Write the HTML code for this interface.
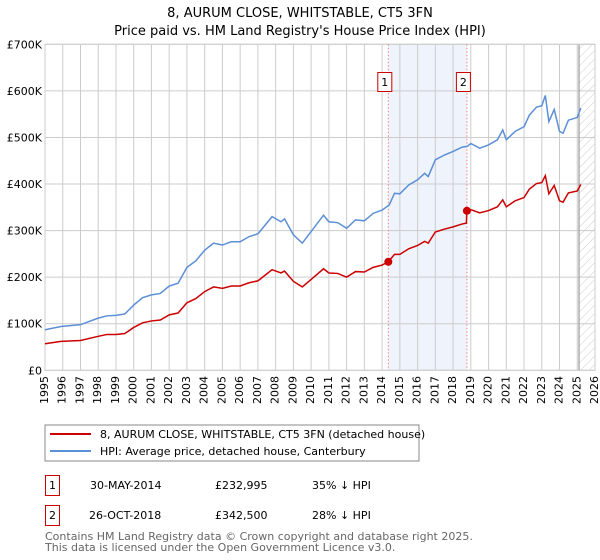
<!DOCTYPE html>
<html><head><meta charset="utf-8"><style>
body{margin:0;background:#fff;font-family:"Liberation Sans","DejaVu Sans",sans-serif;}
svg text{font-family:"DejaVu Sans","Liberation Sans",sans-serif;}
#wrap{position:relative;width:600px;height:560px;}
.xl{position:absolute;font-family:"DejaVu Sans","Liberation Sans",sans-serif;font-size:11px;line-height:12px;width:12px;height:34px;writing-mode:vertical-rl;text-orientation:sideways;white-space:nowrap;}
@supports (writing-mode: sideways-lr){.xl{writing-mode:sideways-lr;text-align:right;}}
</style></head><body>
<div id="wrap">
<svg id="c" width="600" height="560" xmlns="http://www.w3.org/2000/svg" style="position:absolute;left:0;top:0">
<defs><pattern id="h" width="6" height="6" patternUnits="userSpaceOnUse" patternTransform="rotate(45)"><line x1="0" y1="0" x2="0" y2="6" stroke="#ccc" stroke-width="1"/></pattern></defs>
<text x="300" y="17" text-anchor="middle" font-size="13">8, AURUM CLOSE, WHITSTABLE, CT5 3FN</text>
<text x="300" y="35" text-anchor="middle" font-size="13">Price paid vs. HM Land Registry's House Price Index (HPI)</text>
<g id="plot"></g>
<rect x="45" y="425" width="374" height="36" fill="#fff" stroke="#888"/>
<line x1="50" y1="434" x2="91" y2="434" stroke="#cc0000" stroke-width="2"/>
<text x="100" y="438" font-size="11">8, AURUM CLOSE, WHITSTABLE, CT5 3FN (detached house)</text>
<line x1="50" y1="451" x2="91" y2="451" stroke="#5b8fd6" stroke-width="2"/>
<text x="100" y="455" font-size="11">HPI: Average price, detached house, Canterbury</text>
<g font-size="11">
<rect x="45.5" y="475.5" width="14" height="20" fill="none" stroke="#cc0000"/>
<text x="52.5" y="489" text-anchor="middle">1</text>
<text x="90" y="489">30-MAY-2014</text>
<text x="215" y="489">£232,995</text>
<text x="312" y="489">35% ↓ HPI</text>
<rect x="45.5" y="505.5" width="14" height="20" fill="none" stroke="#cc0000"/>
<text x="52.5" y="519" text-anchor="middle">2</text>
<text x="89" y="519">26-OCT-2018</text>
<text x="215" y="519">£342,500</text>
<text x="312" y="519">28% ↓ HPI</text>
</g>
<text x="45" y="540" font-size="11" fill="#666">Contains HM Land Registry data © Crown copyright and database right 2025.</text>
<text x="45" y="551" font-size="11" fill="#666">This data is licensed under the Open Government Licence v3.0.</text>
</svg>
</div>
<script>
const years=[1995,1995.9,1997,1998,1998.5,1999,1999.5,2000,2000.5,2001,2001.5,2002,2002.5,2003,2003.5,2004,2004.5,2005,2005.5,2006,2006.5,2007,2007.5,2007.8,2008.3,2008.5,2009,2009.5,2010,2010.7,2011,2011.5,2012,2012.5,2013,2013.5,2014,2014.4,2014.7,2015,2015.5,2016,2016.4,2016.6,2017,2017.5,2018,2018.5,2018.8,2019,2019.5,2020,2020.5,2020.8,2021,2021.5,2022,2022.3,2022.7,2023,2023.2,2023.4,2023.7,2024,2024.2,2024.5,2025,2025.2];
const hpi=[87,94,98,112,117,118,121,140,156,162,165,181,187,221,235,258,273,269,276,276,287,293,316,330,319,325,291,273,298,333,319,317,305,323,321,337,344,355,380,379,398,409,423,416,452,462,470,479,481,487,477,484,495,516,495,513,523,548,565,568,590,534,560,513,509,537,543,563];
const redYears=[1995,1995.9,1997,1998,1998.5,1999,1999.5,2000,2000.5,2001,2001.5,2002,2002.5,2003,2003.5,2004,2004.5,2005,2005.5,2006,2006.5,2007,2007.5,2007.8,2008.3,2008.5,2009,2009.5,2010,2010.7,2011,2011.5,2012,2012.5,2013,2013.5,2014,2014.35,2014.7,2015,2015.5,2016,2016.4,2016.6,2017,2017.5,2018,2018.5,2018.75,2018.78,2019,2019.5,2020,2020.5,2020.8,2021,2021.5,2022,2022.3,2022.7,2023,2023.2,2023.4,2023.7,2024,2024.2,2024.5,2025,2025.2];
const red=[57,62,64,73,77,77,79,92,102,106,108,119,123,145,154,169,179,176,181,181,188,192,207,216,209,213,191,179,195,218,209,208,200,212,211,221,226,233,249,249,261,268,277,273,297,303,308,314,316,342.5,345,338,343,351,366,351,364,371,389,401,403,418,379,397,364,361,381,385,399];
const saleYears=[2014.35,2018.78];
const salePrices=[232.995,342.5];
const yTicks=[0,100,200,300,400,500,600,700];
const yTickLabels=["£0","£100K","£200K","£300K","£400K","£500K","£600K","£700K"];
const xTicks=[1995,1996,1997,1998,1999,2000,2001,2002,2003,2004,2005,2006,2007,2008,2009,2010,2011,2012,2013,2014,2015,2016,2017,2018,2019,2020,2021,2022,2023,2024,2025,2026];
const L=45,R=595,T=44.3,B=370.3,X0=1995,X1=2026,YMAX=700,DATA_END=2025.1;
const X=v=>L+(v-X0)/(X1-X0)*(R-L);
const Y=v=>B-v/YMAX*(B-T);
const NS="http://www.w3.org/2000/svg";
const g=document.getElementById('plot');
const wrap=document.getElementById('wrap');
function mk(t,a,p){const e=document.createElementNS(NS,t);for(const k in a)e.setAttribute(k,a[k]);(p||g).appendChild(e);return e;}
const sh=mk('rect',{x:X(saleYears[0]),y:T,width:X(saleYears[1])-X(saleYears[0]),height:B-T,fill:'#eef3fc'});


xTicks.forEach(v=>{const l=mk('line',{x1:X(v),x2:X(v),y1:T,y2:B,stroke:'#ccc'});


const d=document.createElement('div');
d.className='xl';
d.textContent=v;
d.style.left=(X(v)-6)+'px';
d.style.top=(B+6)+'px';


wrap.appendChild(d);});
yTicks.forEach((v,i)=>{const l=mk('line',{x1:L,x2:R,y1:Y(v),y2:Y(v),stroke:'#ccc'});


const t=mk('text',{x:L-3,y:Y(v)+4,'font-size':11,'text-anchor':'end'});t.textContent=yTickLabels[i];

});
const hz=mk('rect',{x:X(DATA_END),y:T,width:R-X(DATA_END),height:B-T,fill:'url(#h)'});


const vl=mk('line',{x1:X(DATA_END),x2:X(DATA_END),y1:T,y2:B,stroke:'#999','stroke-width':1.2});


const fr=mk('rect',{x:L,y:T,width:R-L,height:B-T,fill:'none',stroke:'#ccc'});


saleYears.forEach((s,i)=>{const l=mk('line',{x1:X(s),x2:X(s),y1:T,y2:B,stroke:'#f08080','stroke-dasharray':'1.5,2'});


const r=mk('rect',{x:X(s)-10.5,y:72.5,width:14,height:19,fill:'#fff',stroke:'#cc0000'});


const t=mk('text',{x:X(s)-3.5,y:86,'font-size':11,'text-anchor':'middle'});t.textContent=i+1;

});
const hp=mk('polyline',{points:years.map((y,i)=>X(y)+','+Y(hpi[i])).join(' '),fill:'none',stroke:'#5b8fd6','stroke-width':1.5});


const rp=mk('polyline',{points:redYears.map((y,i)=>X(y)+','+Y(red[i])).join(' '),fill:'none',stroke:'#cc0000','stroke-width':1.5});


saleYears.forEach((s,i)=>{const c=mk('circle',{cx:X(s),cy:Y(salePrices[i]),r:4,fill:'#cc0000'});

});
</script>
</body></html>
